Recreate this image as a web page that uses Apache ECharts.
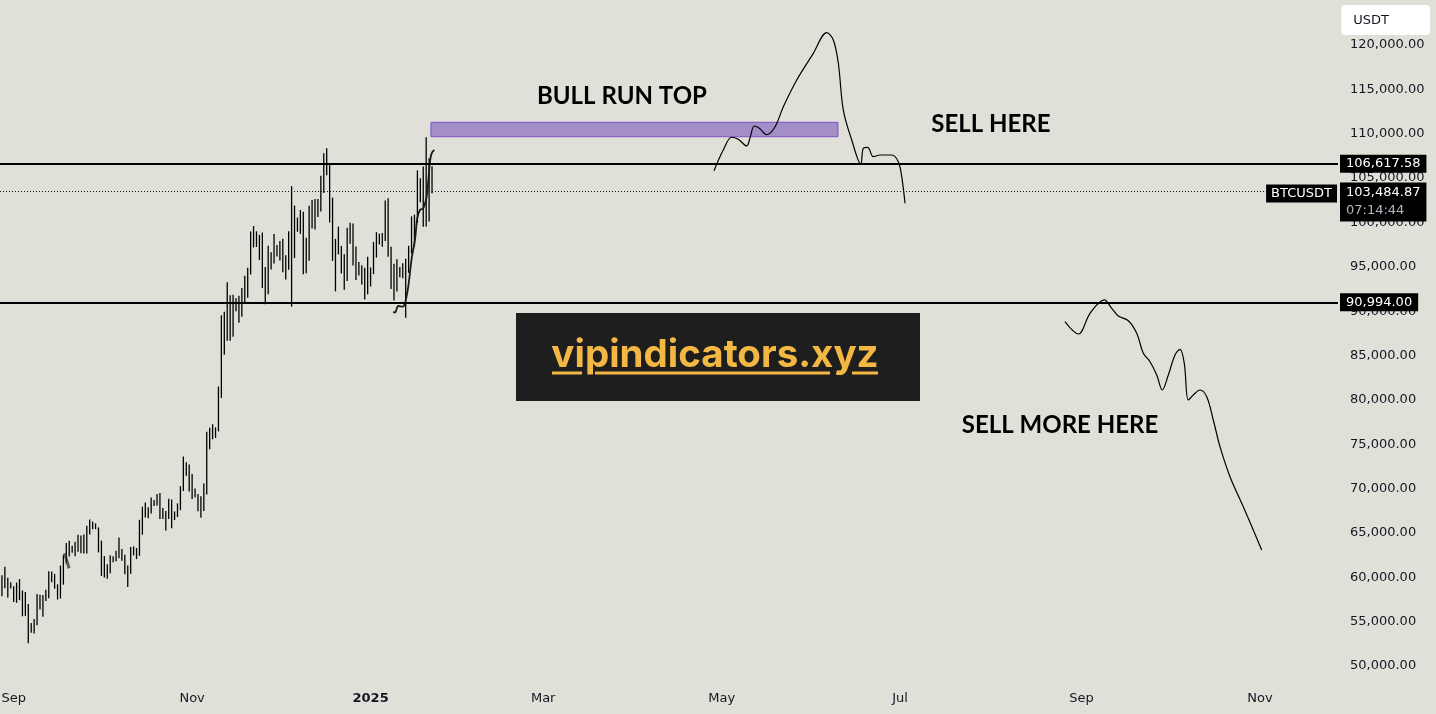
<!DOCTYPE html>
<html>
<head>
<meta charset="utf-8">
<script src="https://cdn.jsdelivr.net/npm/echarts@6/dist/echarts.min.js"></script>
<style>
html,body{margin:0;padding:0;background:#e0e0d9;}
#c{width:1436px;height:714px;}
</style>
</head>
<body>
<div id="c"></div>
<script>
// ---------------- data ----------------
const symbolName = 'BTCUSDT';
const currencyName = 'USDT';
const watermarkText = 'vipindicators.xyz';

// daily bars, first bar date, then one value per day
const barStartDate = '2024-08-28';
const barHighs = [
  60230, 61190, 59950, 59430,
  58990, 59400, 59800, 58510, 58330, 56990, 54850, 55300, 58100, 58040, 58000, 58600, 60670, 60660, 60380, 59210, 61320, 62480, 63850, 64130, 63560, 64000, 64800, 64700, 64820, 65810, 66500, 66260, 66070, 65620,
  64130, 62390, 61470, 62480, 62370, 62980, 64480, 63180, 62540, 61320, 63420, 63480, 63290, 66480, 67950, 68420, 67900, 68990, 68700, 69400, 69500, 67820, 67470, 68840, 68770, 67420, 68330, 70270, 73620, 72960, 72700,
  71630, 70000, 69400, 69120, 70580, 76400, 76850, 77250, 76900, 81500, 89530, 89940, 93270, 91790, 91850, 91450, 91730, 92600, 94000, 94900, 98980, 99590, 99000, 98600, 98870, 94970, 97380, 96640, 98690, 97460,
  97900, 98150, 96300, 99000, 104090, 101900, 100550, 101400, 101210, 98270, 101890, 102540, 102650, 102650, 105250, 107790, 108350, 106470, 102800, 98150, 99540, 97330, 96420, 99400, 99960, 99880, 97300, 95530, 95170, 94900, 96140,
  94930, 97800, 98900, 98730, 98810, 102480, 102720, 97260, 95350, 95840, 94980, 95400, 95900, 97370, 100680, 100870, 105870, 104990, 106300, 109590, 107240, 106340
];
const barLows = [
  57860, 58760, 57720, 58740,
  57200, 57120, 57420, 55600, 55650, 52550, 53740, 53650, 54590, 56380, 55550, 57320, 57630, 59450, 58700, 57490, 57610, 59170, 61560, 62350, 62760, 62380, 62870, 62700, 62670, 62680, 64830, 65420, 65420, 62800,
  60160, 59980, 59830, 60460, 61680, 61810, 62130, 61850, 60340, 58900, 60400, 62470, 62050, 62420, 64800, 66750, 66660, 67180, 68020, 68100, 66570, 66560, 65260, 66570, 65520, 66440, 66800, 67560, 69730, 71440, 69680,
  68820, 69030, 67450, 66710, 67460, 69320, 74420, 75560, 75700, 76450, 80220, 85070, 86670, 86670, 87110, 90000, 88700, 89380, 90900, 91500, 94130, 97180, 97230, 95760, 92600, 90790, 91900, 94680, 95360, 96160,
  95700, 94370, 93580, 94660, 90500, 95980, 98950, 98700, 94150, 94260, 95690, 99310, 99200, 100600, 101230, 103330, 105320, 100000, 95670, 92230, 96400, 94250, 92400, 93400, 97600, 95150, 93500, 94020, 93000, 91320, 91900,
  92780, 94180, 96030, 97520, 97270, 97910, 96130, 92500, 91200, 92200, 93830, 93700, 89260, 94320, 96500, 97300, 99950, 102280, 99500, 99550, 100110, 103300
];

// axis ticks
const yTickValues = [50000, 55000, 60000, 65000, 70000, 75000, 80000, 85000, 90000, 95000, 100000, 105000, 110000, 115000, 120000];
const xTickDates = ['2024-09-01', '2024-11-01', '2025-01-01', '2025-03-01', '2025-05-01', '2025-07-01', '2025-09-01', '2025-11-01'];
const xTickLabels = ['Sep', 'Nov', '2025', 'Mar', 'May', 'Jul', 'Sep', 'Nov'];
const xRange = ['2024-08-27 08:00', '2025-11-27 16:00'];
const yRange = [48419, 125073];

// horizontal levels and last price
const levelValues = [106617.58, 90994.00];
const lastPrice = 103484.87;
const countdown = '07:14:44';

// purple "bull run top" zone
const zoneDates = ['2025-01-21 15:00', '2025-06-09 18:00'];
const zoneValues = [111290, 109660];

// hand-drawn projection paths
const topPathDates = ['2025-04-28 09:00', '2025-05-01 13:00', '2025-05-04 10:00', '2025-05-06 16:00', '2025-05-09 13:00', '2025-05-10 16:00', '2025-05-12 04:00', '2025-05-13 21:00', '2025-05-16 09:00', '2025-05-19 06:00', '2025-05-22 02:00', '2025-05-26 16:00', '2025-06-01 08:00', '2025-06-05 22:00', '2025-06-08 04:00', '2025-06-09 21:00', '2025-06-11 14:00', '2025-06-14 11:00', '2025-06-17 13:00', '2025-06-18 10:00', '2025-06-19 22:00', '2025-06-21 20:00', '2025-06-24 03:00', '2025-06-28 03:00', '2025-06-30 09:00', '2025-07-01 13:00', '2025-07-02 16:00'];
const topPathValues = [105830, 108160, 109600, 109370, 108620, 109480, 110870, 110610, 109890, 110790, 113050, 116060, 119060, 121390, 120560, 117940, 112670, 109290, 106590, 108360, 108470, 107410, 107600, 107600, 106850, 105160, 102160];

const dropPathDates = ['2025-08-26 08:00', '2025-08-30 22:00', '2025-09-03 22:00', '2025-09-08 19:00', '2025-09-11 08:00', '2025-09-13 14:00', '2025-09-17 00:00', '2025-09-19 21:00', '2025-09-22 03:00', '2025-09-24 10:00', '2025-09-26 17:00', '2025-09-28 15:00', '2025-09-30 16:00', '2025-10-02 23:00', '2025-10-04 16:00', '2025-10-06 03:00', '2025-10-07 12:00', '2025-10-09 05:00', '2025-10-11 12:00', '2025-10-13 19:00', '2025-10-16 01:00', '2025-10-18 08:00', '2025-10-21 18:00', '2025-10-26 07:00', '2025-11-01 14:00'];
const dropPathValues = [88810, 87420, 89760, 91260, 90320, 89450, 88920, 87500, 85250, 84300, 82800, 81110, 82800, 85060, 85700, 84120, 79980, 80550, 81110, 80360, 77730, 74720, 71340, 67960, 63080];

const rallyPathDates = ['2025-01-08 18:00', '2025-01-09 08:00', '2025-01-10 11:00', '2025-01-11 23:00', '2025-01-12 18:00', '2025-01-13 21:00', '2025-01-15 01:00', '2025-01-16 04:00', '2025-01-16 23:00', '2025-01-17 21:00', '2025-01-19 00:00', '2025-01-20 04:00', '2025-01-20 18:00', '2025-01-21 07:00', '2025-01-21 21:00', '2025-01-22 19:00'];
const rallyPathValues = [89940, 89830, 90580, 90500, 90880, 92760, 95960, 98020, 100470, 101400, 101590, 102900, 104780, 106850, 107790, 108160];

const markPathDates = ['2024-09-18 07:00', '2024-09-19 03:00', '2024-09-19 22:00'];
const markPathValues = [62700, 61950, 61010];

// text notes
const noteTexts = ['BULL RUN TOP', 'SELL HERE', 'SELL MORE HERE'];
const noteDates = ['2025-03-27 22:00', '2025-08-01 01:00', '2025-08-24 16:00'];
const noteValues = [114250, 111100, 77170];

// ---------------- chart ----------------
const P = function (s) {
  const m = s.match(/(\d+)-(\d+)-(\d+)(?:[ T](\d+):(\d+))?/);
  return new Date(+m[1], +m[2] - 1, +m[3], +(m[4] || 0), +(m[5] || 0)).getTime();
};
const DAY = 86400000;
const t0 = P(barStartDate);
const barRows = barHighs.map((h, i) => [t0 + i * DAY, barLows[i], h]);
const xTickValues = xTickDates.map(P);
const pair = (ds, vs) => ds.map((d, i) => [P(d), vs[i]]);
const fmtPrice = v => Number(v).toLocaleString('en-US', {minimumFractionDigits: 2, maximumFractionDigits: 2});
const FONT = 'DejaVu Sans';

const pathSeries = (name, ds, vs, width, color) => ({
  type: 'line', name, data: pair(ds, vs), smooth: 0.35, symbol: 'none', z: 4,
  lineStyle: {color, width}, silent: true
});

const chart = echarts.init(document.getElementById('c'), null, {renderer: 'canvas'});
const option = {
  backgroundColor: '#e0e0d9',
  animation: false,
  textStyle: {fontFamily: FONT},
  title: {
    text: currencyName, right: 6, top: 5, backgroundColor: '#ffffff', borderRadius: 4,
    padding: [9, 41, 8, 12],
    textStyle: {fontSize: 13, fontWeight: 'normal', color: '#131722', fontFamily: FONT}
  },
  grid: {left: 0, right: 98, top: 0, bottom: 34, containLabel: false, outerBoundsMode: 'none'},
  xAxis: {
    type: 'value', min: P(xRange[0]), max: P(xRange[1]),
    axisLine: {show: false}, axisTick: {show: false}, splitLine: {show: false},
    axisLabel: {
      customValues: xTickValues, color: '#131722', fontSize: 13, fontFamily: FONT, margin: 12, hideOverlap: false,
      showMinLabel: true, showMaxLabel: true,
      formatter: function (v) {
        const i = xTickValues.findIndex(t => Math.abs(t - v) < 3 * 3600e3);
        if (i < 0) return '';
        return xTickLabels[i] === '2025' ? '{b|' + xTickLabels[i] + '}' : xTickLabels[i];
      },
      rich: {b: {fontWeight: 'bold', fontSize: 13, color: '#131722', fontFamily: FONT}}
    }
  },
  yAxis: {
    type: 'value', position: 'right', min: yRange[0], max: yRange[1], scale: true,
    axisLine: {show: false}, axisTick: {show: false}, splitLine: {show: false},
    axisLabel: {customValues: yTickValues, formatter: v => fmtPrice(v), color: '#131722', fontSize: 13, fontFamily: FONT, margin: 12}
  },
  graphic: [{
    type: 'group', z: 100,
    children: [
      {type: 'rect', shape: {x: 516, y: 313, width: 404, height: 88}, style: {fill: '#1e1e1e'}},
      {type: 'text', x: 715, y: 355, style: {text: watermarkText, font: 'bold 38.5px Inter', fill: '#f3b843', align: 'center', verticalAlign: 'middle'}},
      {type: 'rect', shape: {x: 552, y: 371.5, width: 30, height: 3}, style: {fill: '#f3b843'}},
      {type: 'rect', shape: {x: 595, y: 371.5, width: 235, height: 3}, style: {fill: '#f3b843'}},
      {type: 'rect', shape: {x: 852, y: 371.5, width: 26, height: 3}, style: {fill: '#f3b843'}}
    ]
  }],
  series: [
    {
      type: 'line', name: 'levels', data: [], silent: true, z: 3,
      markArea: {
        silent: true,
        itemStyle: {color: '#a48ec8', borderColor: '#7b52c4', borderWidth: 1},
        data: [[{coord: [P(zoneDates[0]), zoneValues[0]]}, {coord: [P(zoneDates[1]), zoneValues[1]]}]]
      },
      markLine: {
        silent: true, symbol: ['none', 'none'], animation: false, precision: 2,
        data: [
          {yAxis: levelValues[0], lineStyle: {color: '#000', width: 2, type: 'solid'},
            label: {show: true, position: 'end', distance: 2, formatter: fmtPrice(levelValues[0]), color: '#fff', backgroundColor: '#000', padding: [3, 6, 2, 6], fontSize: 13, fontFamily: FONT}},
          {yAxis: levelValues[1], lineStyle: {color: '#000', width: 2, type: 'solid'},
            label: {show: true, position: 'end', distance: 2, formatter: fmtPrice(levelValues[1]), color: '#fff', backgroundColor: '#000', padding: [3, 6, 2, 6], fontSize: 13, fontFamily: FONT}},
          {yAxis: lastPrice, lineStyle: {color: '#131722', width: 1, type: [1, 2]}, label: {show: false}}
        ]
      },
      markPoint: {
        silent: true, symbol: 'rect', symbolSize: 0, animation: false,
        data: [
          {coord: [P(xRange[1]), lastPrice], label: {show: true, position: 'left', distance: 1, offset: [0, 2], formatter: symbolName, color: '#fff', backgroundColor: '#000', padding: [3, 5, 2, 5], fontSize: 13, fontFamily: FONT}},
          {coord: [P(xRange[1]), lastPrice], label: {show: true, position: 'right', distance: 2, verticalAlign: 'top', offset: [0, -9],
            formatter: '{p|' + fmtPrice(lastPrice) + '}\n{t|' + countdown + '}', backgroundColor: '#000', padding: [1, 6, 2, 6],
            rich: {p: {color: '#fff', fontSize: 13, lineHeight: 18, fontFamily: FONT}, t: {color: '#b2b5be', fontSize: 13, lineHeight: 18, fontFamily: FONT}}}}
        ]
      }
    },
    {
      type: 'custom', name: 'bars', data: barRows, encode: {x: 0, y: [1, 2]}, z: 2, silent: true,
      renderItem: function (params, api) {
        const x = api.value(0);
        const lo = api.coord([x, api.value(1)]);
        const hi = api.coord([x, api.value(2)]);
        return {type: 'line', shape: {x1: lo[0], y1: lo[1], x2: hi[0], y2: hi[1]}, style: {stroke: '#000', lineWidth: 1.3}};
      }
    },
    pathSeries('top path', topPathDates, topPathValues, 1.2, '#000'),
    pathSeries('drop path', dropPathDates, dropPathValues, 1.2, '#000'),
    pathSeries('rally path', rallyPathDates, rallyPathValues, 1.8, '#1a1a1a'),
    pathSeries('mark', markPathDates, markPathValues, 3, 'rgba(40,40,40,0.7)'),
    {
      type: 'scatter', name: 'notes', symbolSize: 0, z: 6, silent: true,
      itemStyle: {color: '#000000'},
      data: noteDates.map((d, i) => [P(d), noteValues[i]]),
      label: {show: true, position: 'inside', formatter: p => noteTexts[p.dataIndex], fontFamily: 'Lato', fontWeight: 'bold', fontSize: 24,
        color: '#000000', textBorderWidth: 0, textBorderColor: 'transparent', opacity: 1}
    }
  ]
};
chart.setOption(option);
</script>
</body>
</html>
